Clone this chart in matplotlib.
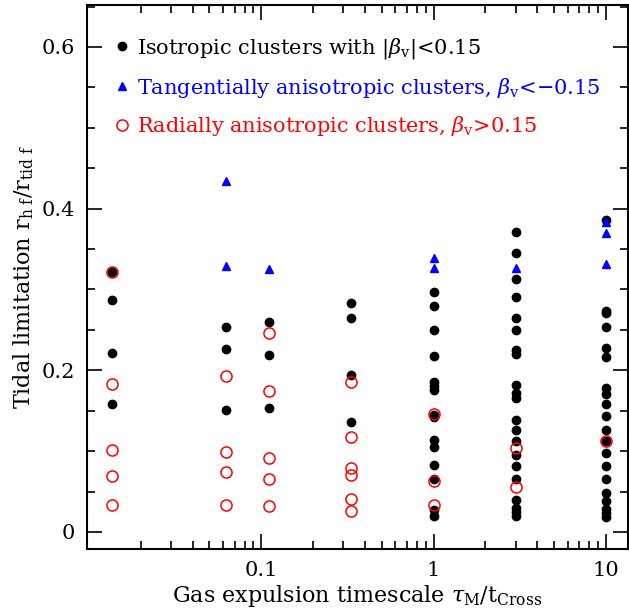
import matplotlib
matplotlib.use("Agg")
import matplotlib.pyplot as plt
from matplotlib.ticker import FixedLocator, FuncFormatter, MultipleLocator, LogLocator, NullFormatter

plt.rcParams['font.family'] = ['DejaVu Serif']
plt.rcParams['mathtext.fontset'] = 'dejavuserif'

# tau_M / t_cross for each column
x_cols = [0.0136, 0.0625, 0.111, 0.333, 1.0, 3.0, 10.0]

iso = [
    [0.322, 0.287, 0.221, 0.158],
    [0.253, 0.226, 0.151],
    [0.260, 0.2195, 0.1533],
    [0.283, 0.265, 0.194, 0.1356],
    [0.297, 0.279, 0.250, 0.218, 0.185, 0.180, 0.175, 0.145, 0.142, 0.114, 0.1056,
     0.0826, 0.065, 0.027, 0.0197],
    [0.3716, 0.345, 0.313, 0.291, 0.2647, 0.250, 0.225, 0.220, 0.1817, 0.172, 0.1656,
     0.139, 0.1266, 0.1126, 0.0954, 0.0814, 0.065, 0.040, 0.030, 0.0247, 0.0197],
    [0.386, 0.2737, 0.2704, 0.2536, 0.227, 0.216, 0.178, 0.171, 0.158, 0.144, 0.126,
     0.113, 0.098, 0.0818, 0.066, 0.0485, 0.038, 0.0288, 0.0238, 0.019],
]
tang = [
    [],
    [0.4337, 0.3285],
    [0.3256],
    [],
    [0.3387, 0.3268],
    [0.326],
    [0.3835, 0.370, 0.331],
]
rad = [
    [0.322, 0.183, 0.1016, 0.069, 0.033],
    [0.193, 0.099, 0.0745, 0.0338],
    [0.2466, 0.1747, 0.0913, 0.0658, 0.0317],
    [0.186, 0.118, 0.0785, 0.071, 0.0407, 0.0255],
    [0.146, 0.0633, 0.0333],
    [0.104, 0.055],
    [0.1126],
]

fig = plt.figure(figsize=(6.29, 6.14), dpi=100)
ax = fig.add_axes([0.139, 0.106, 0.859, 0.886])

def flat(groups):
    xs, ys = [], []
    for xv, g in zip(x_cols, groups):
        for v in g:
            xs.append(xv); ys.append(v)
    return xs, ys

xi, yi = flat(iso)
xt, yt = flat(tang)
xr, yr = flat(rad)

ax.plot(xi, yi, 'o', color='black', ms=6, mec='black', ls='none',
        label=r'Isotropic clusters with $|\beta_{\rm v}|$<0.15')
ax.plot(xt, yt, '^', color='blue', ms=6, mec='blue', ls='none',
        label=r'Tangentially anisotropic clusters, $\beta_{\rm v}$<$-$0.15')
ax.plot(xr, yr, 'o', mfc='none', mec='red', mew=1.1, ms=8, ls='none',
        label=r'Radially anisotropic clusters, $\beta_{\rm v}$>0.15')

ax.set_xscale('log')
ax.set_xlim(0.0098, 13.4)
ax.set_ylim(-0.021, 0.652)

ax.xaxis.set_major_locator(FixedLocator([0.1, 1, 10]))
ax.xaxis.set_major_formatter(FuncFormatter(lambda v, p: '%g' % v))
ax.xaxis.set_minor_locator(LogLocator(base=10, subs=range(2, 10), numticks=20))
ax.xaxis.set_minor_formatter(NullFormatter())
ax.yaxis.set_major_locator(MultipleLocator(0.2))
ax.yaxis.set_minor_locator(MultipleLocator(0.05))
ax.yaxis.set_major_formatter(FuncFormatter(lambda v, p: '%g' % round(v, 3)))

ax.tick_params(which='both', direction='in', top=True, right=True, labelsize=15, width=1.2)
ax.tick_params(which='major', length=11, pad=9)
ax.tick_params(which='minor', length=5.5)
for s in ax.spines.values():
    s.set_linewidth(1.5)

ax.set_xlabel(r'Gas expulsion timescale $\tau_{\rm M}$/t$_{\rm Cross}$', fontsize=16, labelpad=2)
ax.set_ylabel(r'Tidal limitation r$_{\rm h\ f}$/r$_{\rm tid\ f}$', fontsize=16, labelpad=4)

leg = ax.legend(loc='upper left', frameon=False, fontsize=15, handletextpad=0.6,
                handlelength=0.3, labelspacing=0.7, borderaxespad=1.1, borderpad=0.4,
                labelcolor=['black', 'blue', 'red'])

fig.savefig('out.png', dpi=100)
